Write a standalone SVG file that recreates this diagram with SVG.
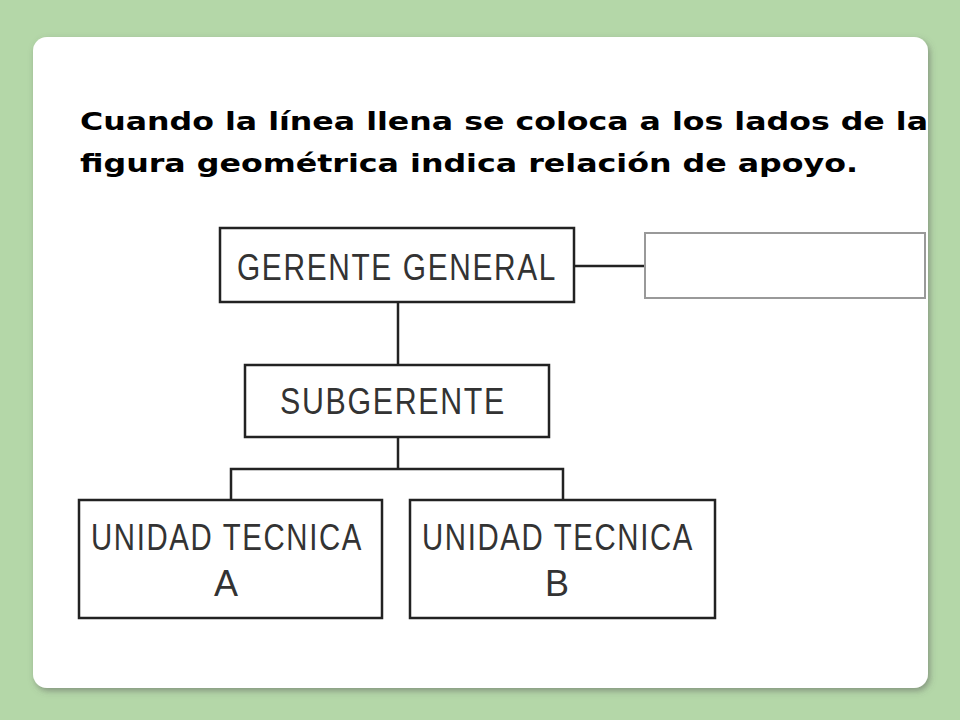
<svg xmlns="http://www.w3.org/2000/svg" width="960" height="720" viewBox="0 0 960 720">
<defs>
<filter id="sh" x="-5%" y="-5%" width="110%" height="110%"><feDropShadow dx="2" dy="3" stdDeviation="3" flood-color="#555" flood-opacity="0.5"/></filter>
<style>
.box{fill:#fff;stroke:#222;stroke-width:2.5}
.lbl{font-family:"Liberation Sans",Arial,sans-serif;font-size:36px;fill:#333;text-anchor:middle;letter-spacing:2px}
.ln{stroke:#222;stroke-width:2.5;fill:none}
</style>
</defs>
<rect width="960" height="720" fill="#b4d7a8"/>
<rect x="33" y="37" width="895" height="651" rx="14" fill="#fff" filter="url(#sh)"/>
<text font-family="DejaVu Sans,Verdana,sans-serif" font-weight="bold" font-size="24" fill="#000"><tspan x="80" y="130" textLength="848" lengthAdjust="spacingAndGlyphs">Cuando la línea llena se coloca a los lados de la</tspan><tspan x="80" y="172" textLength="778" lengthAdjust="spacingAndGlyphs">figura geométrica indica relación de apoyo.</tspan></text>
<g id="connectors">
<line class="ln" x1="574" y1="266" x2="645" y2="266"/>
<line class="ln" x1="398" y1="302" x2="398" y2="365"/>
<line class="ln" x1="398" y1="437" x2="398" y2="469"/>
<polyline class="ln" points="231,500 231,469 563,469 563,500"/>
</g>
<g id="gerente"><rect class="box" x="220" y="228" width="354" height="74"/><text class="lbl" x="397" y="280" textLength="320" lengthAdjust="spacingAndGlyphs">GERENTE GENERAL</text></g>
<g id="apoyo"><rect x="645" y="233" width="280" height="65" fill="#fff" stroke="#999" stroke-width="2"/></g>
<g id="subgerente"><rect class="box" x="245" y="365" width="304" height="72"/><text class="lbl" x="393" y="414" textLength="226" lengthAdjust="spacingAndGlyphs">SUBGERENTE</text></g>
<g id="unidadA"><rect class="box" x="79" y="500" width="303" height="118"/><text class="lbl" x="227" y="550" textLength="272" lengthAdjust="spacingAndGlyphs">UNIDAD TECNICA</text><text class="lbl" x="227" y="596">A</text></g>
<g id="unidadB"><rect class="box" x="410" y="500" width="305" height="118"/><text class="lbl" x="558" y="550" textLength="272" lengthAdjust="spacingAndGlyphs">UNIDAD TECNICA</text><text class="lbl" x="558" y="596">B</text></g>
</svg>
